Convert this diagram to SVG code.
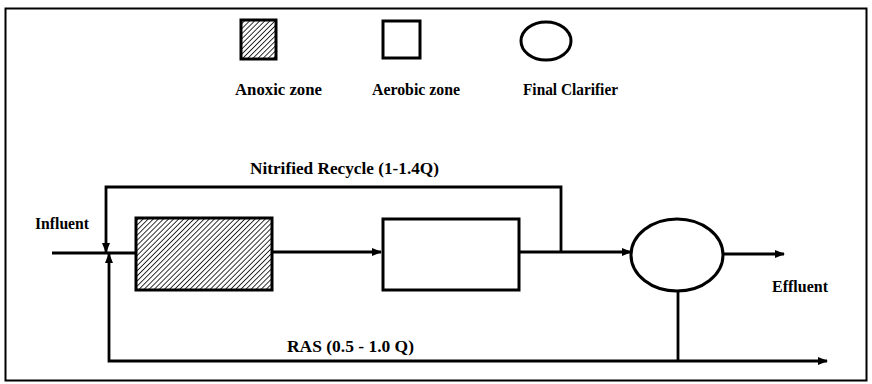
<svg xmlns="http://www.w3.org/2000/svg" width="872" height="384" viewBox="0 0 872 384">
<style>
.ln{fill:none;stroke:#000;stroke-width:2.8}
.box{fill:#fff;stroke:#000;stroke-width:3}
.hat{fill:url(#hatch);stroke:#000;stroke-width:3}
text{font-family:"Liberation Serif","Times New Roman",serif;font-size:16.5px;fill:#000;font-weight:bold}
</style>
<defs>
<pattern id="hatch" patternUnits="userSpaceOnUse" width="3.6" height="3.6" patternTransform="rotate(45)">
<rect width="3.6" height="3.6" fill="#fff"/>
<line x1="0" y1="0" x2="0" y2="3.6" stroke="#000" stroke-width="1.6"/>
</pattern>
<marker id="ah" markerWidth="10" markerHeight="10" refX="9" refY="5" orient="auto" markerUnits="userSpaceOnUse">
<path d="M0,1 L10,5 L0,9 Z" fill="#000"/>
</marker>
</defs>
<rect x="5.5" y="8.5" width="861" height="372" fill="#fff" stroke="#000" stroke-width="2"/>
<g id="legend-anoxic"><rect class="hat" x="241" y="20" width="35" height="39"/><text x="235" y="95" textLength="87" lengthAdjust="spacingAndGlyphs">Anoxic zone</text></g>
<g id="legend-aerobic"><rect class="box" x="383" y="21" width="37" height="37"/><text x="372" y="95" textLength="88" lengthAdjust="spacingAndGlyphs">Aerobic zone</text></g>
<g id="legend-clarifier"><ellipse class="box" cx="546" cy="41" rx="25" ry="19"/><text x="523" y="95" textLength="95" lengthAdjust="spacingAndGlyphs">Final Clarifier</text></g>
<g id="connectors">
<path class="ln" d="M52,253 H136"/>
<path class="ln" d="M272,252 H381" marker-end="url(#ah)"/>
<path class="ln" d="M519,252 H631" marker-end="url(#ah)"/>
<path class="ln" d="M723,254 H784" marker-end="url(#ah)"/>
<path class="ln" d="M561,252 V187 H106 V252" marker-end="url(#ah)"/>
<path class="ln" d="M678,291 V361"/>
<path class="ln" d="M678,361 H827" marker-end="url(#ah)"/>
<path class="ln" d="M678,361 H109 V254" marker-end="url(#ah)"/>
</g>
<g id="anoxic"><rect class="hat" x="136" y="218" width="136" height="72"/></g>
<g id="aerobic"><rect class="box" x="383" y="219" width="136" height="71"/></g>
<g id="clarifier"><ellipse class="box" cx="677" cy="255" rx="46" ry="36"/></g>
<text x="250" y="174" textLength="189" lengthAdjust="spacingAndGlyphs">Nitrified Recycle (1-1.4Q)</text>
<text x="35" y="229" textLength="54" lengthAdjust="spacingAndGlyphs">Influent</text>
<text x="772" y="292" textLength="56" lengthAdjust="spacingAndGlyphs">Effluent</text>
<text x="287" y="352" textLength="127" lengthAdjust="spacingAndGlyphs">RAS (0.5 - 1.0 Q)</text>
</svg>
